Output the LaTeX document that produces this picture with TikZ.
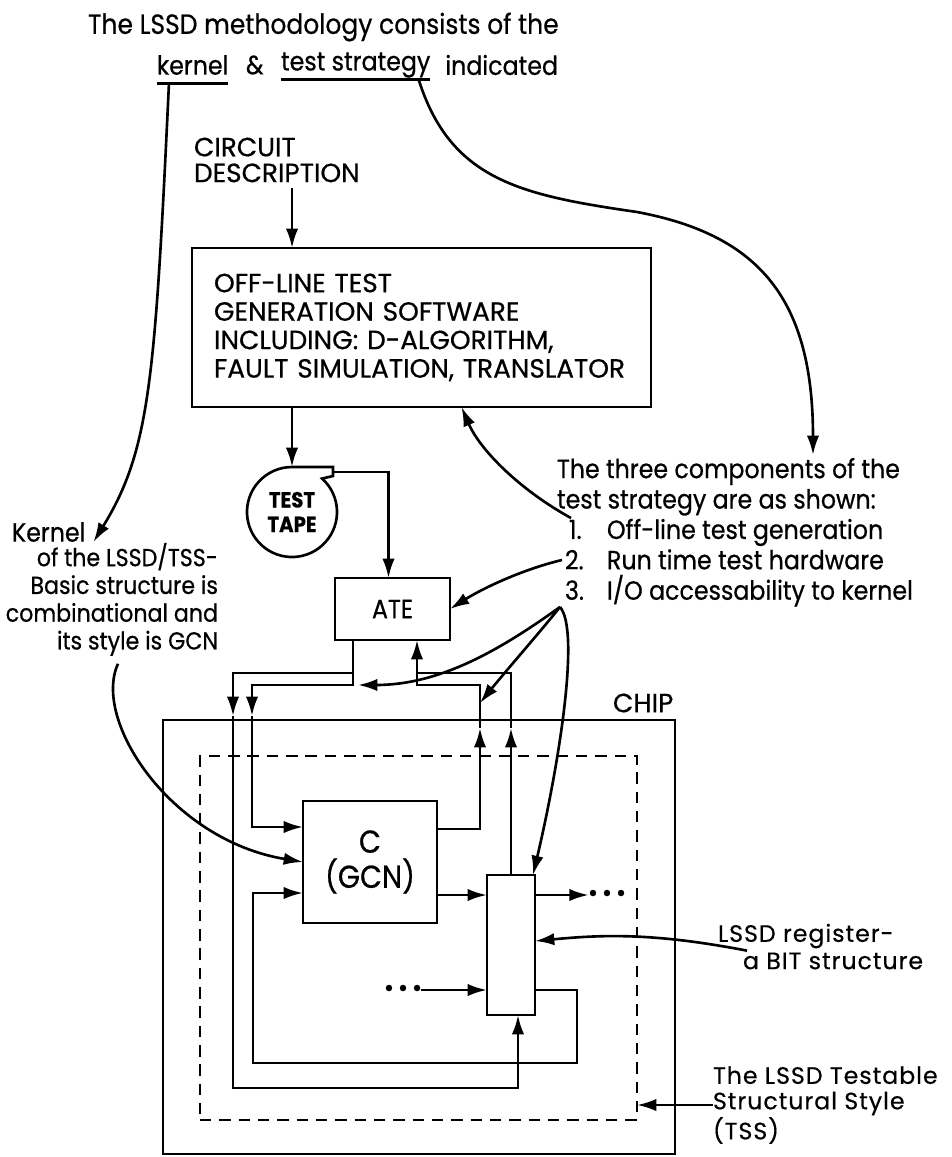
\documentclass[tikz,border=0pt]{standalone}
\usepackage{fontspec}
\setmainfont{Poppins}[FakeStretch=0.9, FakeBold=0.6]
\newfontfamily\capsfont{Poppins}[FakeStretch=1.0, FakeBold=0.6]
\newfontfamily\lblfont{Poppins}[FakeStretch=1.0, LetterSpace=4, FakeBold=0.4]
\usetikzlibrary{positioning,arrows.meta,calc}

\begin{document}
\begin{tikzpicture}[
    x=0.02cm, y=-0.02cm,
    line width=1.5pt,
    >={Latex[length=11pt,width=7pt]},
    every node/.style={inner sep=0pt, outer sep=0pt, font=\fontsize{15}{16.2}\selectfont},
    box/.style={draw, line width=1.5pt},
    tssline/.style={draw, line width=1.4pt, dash pattern=on 6.5pt off 4.5pt},
    dots/.style={font=\bfseries\fontsize{19}{20}\selectfont}
]
    \useasboundingbox (0,0) rectangle (952,1157);

    \node[anchor=west, font=\fontsize{15.8}{17}\selectfont] (head) at (88,27) {The LSSD methodology consists of the};
    \node[anchor=west] (kern) at (157,65) {kernel};
    \node[right=0.35cm of kern] (amp) {\&};
    \node[right=0.35cm of amp] (strat) {test strategy};
    \node[right=0.3cm of strat] (ind) {indicated};
    \draw ([yshift=-5pt]kern.base west) -- ([yshift=-5pt]kern.base east);
    \draw ([yshift=-5pt]strat.base west) -- ([yshift=-5pt]strat.base east);

    \node[anchor=west, align=left, font=\capsfont\fontsize{15}{14.7}\selectfont] (cdesc) at (194,160) {CIRCUIT\\DESCRIPTION};
    \node[box, minimum width=9.18cm, minimum height=3.18cm, text width=8.3cm, inner xsep=0.44cm, align=left, font=\capsfont\fontsize{15}{16.2}\selectfont] (ofl) at (421.5,327.5)
        {OFF-LINE TEST\\GENERATION SOFTWARE\\INCLUDING: D-ALGORITHM,\\FAULT SIMULATION, TRANSLATOR};
    \node[circle, minimum size=1.8cm, align=center, font=\bfseries\fontsize{12.5}{14}\selectfont] (tape) at (292,512) {TEST\\TAPE};
    \node[box, minimum width=2.3cm, minimum height=1.24cm] (ate) at (392.5,609) {ATE};

    \node[box, minimum width=10.24cm, minimum height=8.68cm] (chip) at (419,937) {};
    \node[anchor=west, font=\capsfont\fontsize{15}{16}\selectfont] (chiplbl) at (613,703) {CHIP};
    \node[tssline, minimum width=8.74cm, minimum height=7.28cm] (tssbox) at (418.5,938) {};
    \node[box, minimum width=2.68cm, minimum height=2.44cm, align=center, font=\fontsize{18}{20}\selectfont] (cbox) at (370,862) {C\\(GCN)};
    \node[box, minimum width=0.96cm, minimum height=2.8cm] (reg) at (511,945) {};
    \node[dots] (outdots) at (607,893) {.\,.\,.};
    \node[dots] (indots) at (403,988) {.\,.\,.};

    \node[anchor=west] (klbl) at (12,532) {Kernel};
    \node[anchor=north east, align=right, font=\fontsize{14}{15.8}\selectfont] (kdesc) at (218,543)
        {of the LSSD/TSS-\\Basic structure is\\combinational and\\its style is GCN};
    \node[anchor=north west, align=left, font=\fontsize{15}{17.3}\selectfont] (comps) at (557,458)
        {The three components of the\\test strategy are as shown:\\
         \hspace*{0.24cm}\makebox[0.76cm][l]{1.}Off-line test generation\\
         \hspace*{0.16cm}\makebox[0.84cm][l]{2.}Run time test hardware\\
         \hspace*{0.16cm}\makebox[0.84cm][l]{3.}I/O accessability to kernel};
    \node[anchor=west, font=\lblfont\fontsize{13.5}{14}\selectfont] (reglbl) at (718,936) {LSSD register-};
    \node[anchor=west, font=\lblfont\fontsize{13.5}{14}\selectfont] (bitlbl) at (743,961) {a BIT structure};
    \node[anchor=west, align=left, font=\lblfont\fontsize{13.5}{14.5}\selectfont] (tsslbl) at (713,1105) {The LSSD Testable\\Structural Style\\(TSS)};

    \coordinate (itemA) at (571,518);
    \coordinate (itemB) at (562,560);
    \coordinate (fan) at (560,607);

    \draw[->] ($(kern.base west)+(12,8)$) .. controls (155,380) and (150,450) .. ($(klbl.east)+(8,10)$);
    \draw[->] ($(strat.base east)+(-12,8)$) .. controls (450,180) and (520,195) .. (637,212)
        .. controls (760,235) and (813,300) .. (813,455);

    \draw[->] ($(ofl.north west)+(100,-60)$) -- ($(ofl.north west)+(100,0)$);
    \draw[->] (ofl.south -| tape) -- (tape.north);
    \draw (tape.north) -- ++(41,0) -- ++(0,9) -- ($(tape.center)+(-48:45)$) arc[start angle=-48, end angle=270, radius=45];
    \draw[->] ($(tape.north)+(41,5)$) -| ($(ate.north)+(-4,0)$);

    \draw[->] ($(ate.south west)+(18,0)$) |- (233,673) -- (233,716);
    \draw[->] (233,716) -- (233,1088) -| ($(reg.south)+(7,0)$);
    \draw[->] ($(ate.south west)+(18,0)$) |- (252,685) -- (252,716);
    \draw[->] (252,716) |- ($(cbox.west)+(0,-35)$);
    \draw[->] ($(cbox.east)+(0,-33)$) -| (480,728);
    \draw[->] (480,728) |- ($(ate.south east)+(-33,45)$) -- ($(ate.south east)+(-33,0)$);
    \draw[->] (reg.north) -- (511,728);
    \draw (511,728) |- ($(ate.south east)+(-33,33)$);

    \draw[->] (cbox.east |- 0,895) -- (reg.west |- 0,895);
    \draw[->] (reg.east |- 0,895) -- (outdots.west |- 0,895);
    \draw[->] (indots.east |- 0,990) -- (reg.west |- 0,990);
    \draw[->] (reg.east |- 0,990) -| (577,1063) -| (253,893) -- (cbox.west |- 253,893);

    \draw[->] ($(kdesc.south east)+(-100,8)$) .. controls (92,720) and (170,840) .. (cbox.west);
    \draw[->] ($(bitlbl.north west)+(4,-2)$) .. controls (650,932) and (600,935) .. (reg.east |- 0,941);
    \draw[->] (tsslbl.west) -- (tsslbl.west -| tssbox.east);

    \draw[->] (itemA) .. controls (520,490) and (480,450) .. ($(ofl.south)+(40,0)$);
    \draw[->] (itemB) .. controls (520,570) and (480,590) .. (ate.east);
    \draw[->] (fan) .. controls (500,650) and (440,685) .. ($(ate.south west)+(23,45)$);
    \draw[->] (fan) .. controls (540,632) and (505,672) .. (480,703);
    \draw[->] (fan) .. controls (580,630) and (560,760) .. ($(reg.north east)+(-2,0)$);
\end{tikzpicture}
\end{document}
